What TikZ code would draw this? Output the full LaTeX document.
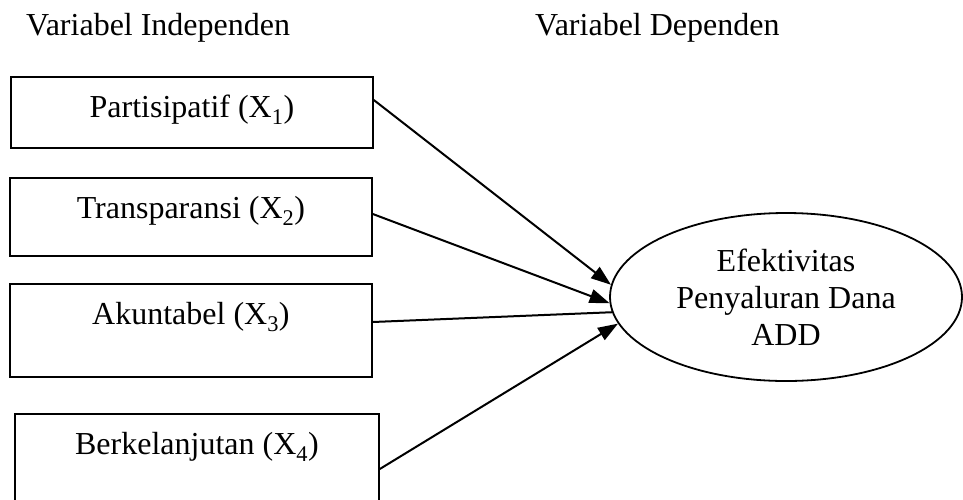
\documentclass[tikz,border=0pt]{standalone}
\usepackage{fontspec}
\setmainfont{Liberation Serif}
\usetikzlibrary{shapes.geometric,arrows.meta}
\begin{document}
\begin{tikzpicture}[x=1pt,y=-1pt,
  varbox/.style={draw,line width=1.8pt,inner sep=0pt,anchor=north west,
    minimum width=362pt,text height=41pt},
  depvar/.style={draw,ellipse,line width=1.8pt,inner sep=0pt,
    minimum width=352pt,minimum height=168pt,align=center},
  arr/.style={line width=2pt,-{Triangle[length=20pt,width=14pt]}}]
\useasboundingbox (0,0) rectangle (963,499);
\fontsize{32}{37}\selectfont

\node[anchor=base west,inner sep=0pt] (indep) at (26,35) {Variabel Independen};
\node[anchor=base west,inner sep=0pt] (dep) at (535,35) {Variabel Dependen};

\node[varbox,text depth=30pt] (x1) at (10,76) {Partisipatif (X\textsubscript{1})};
\node[varbox,text depth=37pt] (x2) at (9,177) {Transparansi (X\textsubscript{2})};
\node[varbox,text depth=52pt] (x3) at (9,283) {Akuntabel (X\textsubscript{3})};
\node[varbox,text depth=49pt,minimum width=364pt] (x4) at (14,413) {Berkelanjutan (X\textsubscript{4})};

\node[depvar] (y) at (786,297) {Efektivitas\\Penyaluran Dana\\ADD};

\draw[arr] ([yshift=-24pt]x1.north east) -- (y.176.7);
\draw[arr] ([yshift=-37pt]x2.north east) -- (y.182.6);
\draw[line width=2pt] ([yshift=-39pt]x3.north east) -- (y.185);
\draw[arr] ([yshift=-56pt]x4.north east) -- (y.189.6);
\end{tikzpicture}
\end{document}
